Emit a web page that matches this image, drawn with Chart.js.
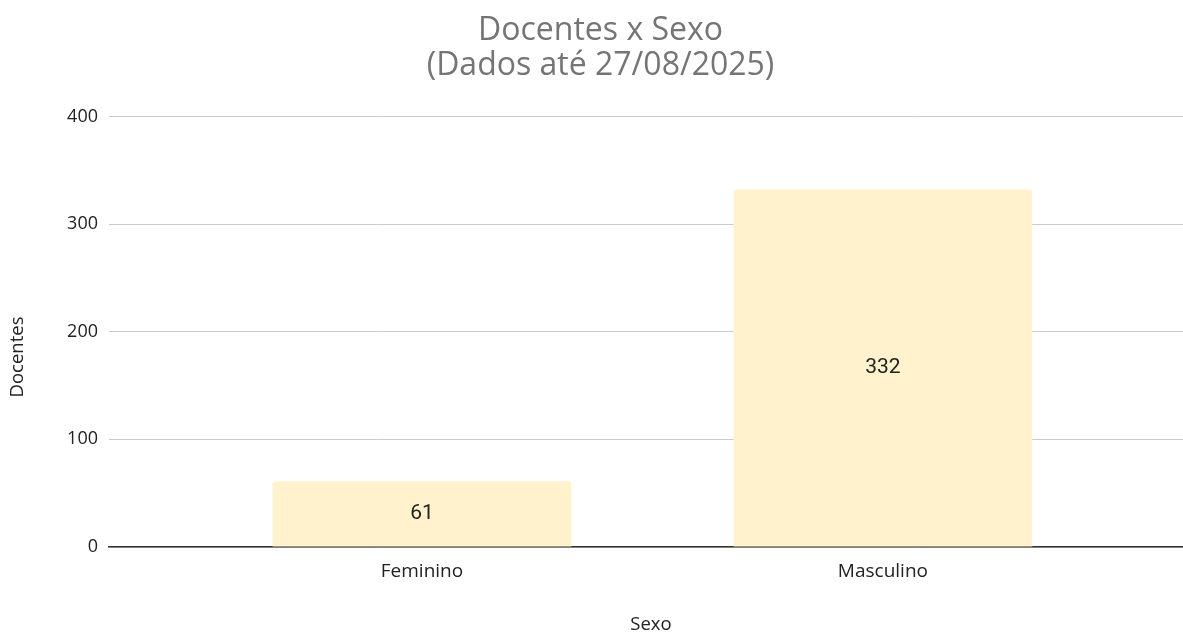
<style>
  body { margin: 0; }
</style>
<canvas id="chart" width="1183" height="636"></canvas>
<script src="https://cdn.jsdelivr.net/npm/chart.js@4.4.1/dist/chart.umd.min.js"></script>
<script>
  const categories = ['Feminino', 'Masculino']
  const values = [61, 332]
  const yTicks = [0, 100, 200, 300, 400]
  const titleLines = ['Docentes x Sexo', '(Dados até 27/08/2025)']
  const xTitle = 'Sexo'
  const yTitle = 'Docentes'

  // value labels in the middle of each bar, plus axis titles
  const labelsPlugin = {
    id: 'labelsPlugin',
    afterDatasetsDraw(chart) {
      const ctx = chart.ctx
      const meta = chart.getDatasetMeta(0)
      ctx.save()
      ctx.font = '21px Roboto'
      ctx.fillStyle = '#222'
      ctx.textAlign = 'center'
      ctx.textBaseline = 'middle'
      meta.data.forEach((bar, i) => {
        ctx.fillText(String(values[i]), bar.x, (bar.y + bar.base) / 2)
      })
      ctx.restore()
    },
    afterDraw(chart) {
      const ctx = chart.ctx
      const area = chart.chartArea
      ctx.save()
      ctx.fillStyle = '#222'
      ctx.textAlign = 'center'
      ctx.textBaseline = 'middle'
      ctx.font = '18.5px "Open Sans"'
      ctx.fillText(xTitle, (area.left + area.right) / 2 + 5, 625)
      ctx.translate(18, area.bottom - 190)
      ctx.rotate(-Math.PI / 2)
      ctx.fillText(yTitle, 0, 0)
      ctx.restore()
    }
  }

  new Chart(document.getElementById('chart'), {
    type: 'bar',
    data: {
      datasets: [{
        data: categories.map((c, i) => ({ x: i, y: values[i] })),
        backgroundColor: '#FFF2CC',
        borderRadius: 3,
        categoryPercentage: 0.8,
        barPercentage: 0.81
      }]
    },
    options: {
      responsive: false,
      animation: false,
      layout: { padding: { left: 18, right: 0, top: 0, bottom: 0 } },
      plugins: {
        legend: { display: false },
        tooltip: { enabled: false },
        title: {
          display: true,
          text: titleLines,
          color: '#757575',
          font: { family: 'Open Sans', size: 32, weight: 'normal', lineHeight: 1.1 },
          padding: { top: 13, bottom: 33 }
        }
      },
      scales: {
        x: {
          type: 'linear',
          offset: false,
          min: -0.679,
          max: 1.651,
          grid: { display: false, drawTicks: false },
          border: { display: true, color: '#333', width: 1.5 },
          ticks: {
            stepSize: 1,
            includeBounds: false,
            padding: 13,
            color: '#222',
            font: { family: 'Open Sans', size: 19 },
            callback: v => categories[v] ?? ''
          },
          afterFit: s => { s.height = 89 }
        },
        y: {
          min: 0,
          max: 400,
          afterBuildTicks: s => { s.ticks = yTicks.map(v => ({ value: v })) },
          grid: { color: '#ccc', drawTicks: false },
          border: { display: false },
          ticks: {
            padding: 11,
            color: '#222',
            font: { family: 'Open Sans', size: 18 }
          },
          afterFit: s => { s.width = 91 }
        }
      }
    },
    plugins: [labelsPlugin]
  })
</script>
